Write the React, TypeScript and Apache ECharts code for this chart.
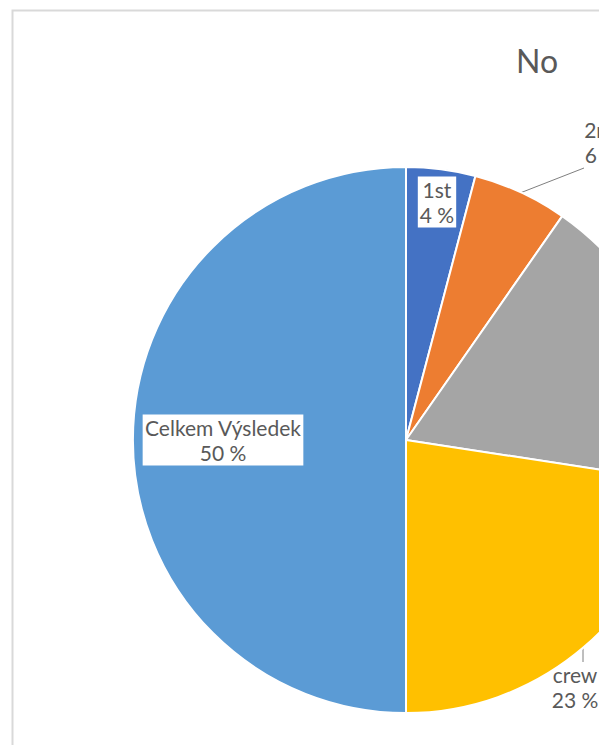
import React, { useEffect, useRef } from "react";
import * as echarts from "echarts";

const categories = ["1st", "2nd", "3rd", "crew", "Celkem Výsledek"];
const values = [122, 167, 528, 673, 1490];
const colors = ["#4472C4", "#ED7D31", "#A5A5A5", "#FFC000", "#5B9BD5"];
const titleText = "No";

const FONT = "Lato, 'Open Sans', sans-serif";
const TEXT = "#595959";

// label placement (layout only)
const labelPlaces: Record<string, { x: number; y: number; line?: number[][]; box?: boolean }> = {
  "1st": { x: 437, y: 202, box: true },
  "2nd": { x: 602, y: 142, line: [[520, 193], [584, 168]] },
  "3rd": { x: 680, y: 300 },
  crew: { x: 575, y: 687, line: [[583, 648], [583, 662]] },
  "Celkem Výsledek": { x: 223, y: 440, box: true },
};

export default function App() {
  const ref = useRef<HTMLDivElement>(null);
  useEffect(() => {
    if (!ref.current) return;
    const chart = echarts.init(ref.current, undefined, { renderer: "svg" });
    const total = values.reduce((a, b) => a + b, 0);
    const data = categories.map((c, i) => {
      const p = labelPlaces[c];
      return {
        name: c,
        value: values[i],
        itemStyle: { color: colors[i] },
        label: p.box
          ? { position: "inside", backgroundColor: "#fff", padding: [1, 2, 0, 2] }
          : { position: "outside" },
        labelLine: { show: !!p.line },
      };
    });
    chart.setOption({
      animation: false,
      title: {
        text: titleText,
        left: 511,
        top: 39,
        textStyle: { fontFamily: FONT, fontSize: 32, fontWeight: "normal", color: TEXT },
      },
      graphic: [
        {
          type: "rect",
          shape: { x: 12.5, y: 10.5, width: 800, height: 900 },
          style: { fill: "none", stroke: "#D9D9D9", lineWidth: 2 },
          silent: true,
        },
      ],
      series: [
        {
          type: "pie",
          center: [406, 440],
          radius: [0, 273],
          startAngle: 90,
          clockwise: true,
          avoidLabelOverlap: false,
          itemStyle: { borderColor: "#fff", borderWidth: 2 },
          label: {
            show: true,
            fontFamily: FONT,
            fontSize: 21,
            lineHeight: 25,
            color: TEXT,
            align: "center",
            formatter: (p: any) => `${p.name}\n${Math.round((p.value / total) * 100)} %`,
          },
          labelLine: { lineStyle: { color: "#7F7F7F", width: 1 } },
          labelLayout: (params: any) => {
            const name = categories[params.dataIndex];
            const p = labelPlaces[name];
            const out: any = { x: p.x, y: p.y, align: "center", verticalAlign: "middle" };
            if (p.line) out.labelLinePoints = p.line;
            return out;
          },
          data,
        },
      ],
    });
    return () => chart.dispose();
  }, []);
  return (
    <div
      ref={ref}
      style={{ position: "absolute", left: 0, top: 0, width: 599, height: 745, background: "#fff" }}
    />
  );
}
